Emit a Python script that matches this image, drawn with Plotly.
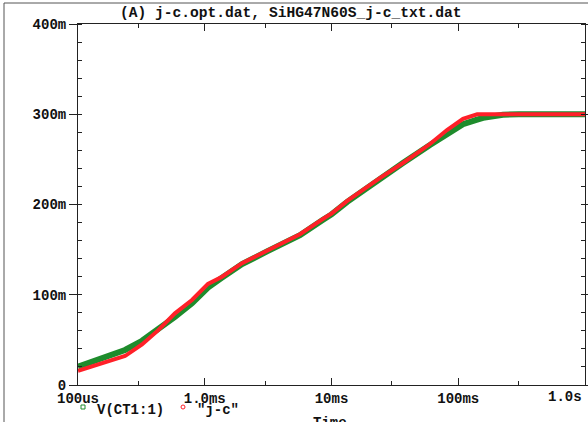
import plotly.graph_objects as go

# ---- data (time in s, value in V) ----
t_green = [1e-4, 1.72e-4, 2.35e-4, 3.2e-4, 4.28e-4, 5.82e-4, 7.93e-4, 1.06e-3, 1.37e-3,
           1.97e-3, 3.1e-3, 4.14e-3, 5.64e-3, 8.57e-3, 1.0e-2, 1.33e-2, 1.77e-2, 2.42e-2,
           3.66e-2, 5.98e-2, 8.15e-2, 0.109, 0.141, 0.157, 0.225, 0.3, 1.0]
v_green_m = [20.3, 32, 38.8, 49, 61, 75.5, 90.5, 108, 119,
             134, 148, 156, 166, 183, 189, 203, 215.5, 228.5,
             246, 266, 277, 289, 294, 296, 299.5, 300, 300]
t_red = [1e-4, 1.72e-4, 2.35e-4, 3.2e-4, 4.28e-4, 5.82e-4, 7.93e-4, 1.06e-3, 1.37e-3,
         1.97e-3, 3.1e-3, 4.14e-3, 5.64e-3, 8.57e-3, 1.0e-2, 1.33e-2, 1.77e-2, 2.42e-2,
         3.66e-2, 5.98e-2, 8.15e-2, 0.109, 0.141, 1.0]
v_red_m = [15.8, 25.8, 32.1, 45, 60.5, 79.4, 94.2, 112, 120,
           135, 148.5, 157, 167, 184, 190, 204, 216.5, 229.5,
           246, 267, 282.5, 295, 300, 300]

x_tickvals = [1e-4, 1e-3, 1e-2, 1e-1, 1.0]
x_ticktext = ["100us", "1.0ms", "10ms", "100ms", ""]
x_minor = [3e-4, 3e-3, 3e-2, 3e-1]
y_tickvals = [0, 0.1, 0.2, 0.3, 0.4]
y_ticktext = ["0", "100m", "200m", "300m", "400m"]

title_text = "(A) j-c.opt.dat, SiHG47N60S_j-c_txt.dat"
legend_names = ["V(CT1:1)", '"j-c"']

GREEN = "#1e8c2c"
RED = "#ff2028"
AX = "#222222"
FONT = dict(family="Liberation Mono, Courier New, monospace", size=14, color="#111111", weight="bold")
TFONT = dict(FONT, size=14.6)

W, H = 588, 422
L, R, T, B = 78, 3, 24, 37
PW, PH = W - L - R, H - T - B

def px(x):
    return (x - L) / PW

def py(y):
    return (H - B - y) / PH

fig = go.Figure()
fig.add_trace(go.Scatter(x=t_green, y=[v / 1000 for v in v_green_m], mode="lines",
                         line=dict(color=GREEN, width=6), name=legend_names[0]))
fig.add_trace(go.Scatter(x=t_red, y=[v / 1000 for v in v_red_m], mode="lines",
                         line=dict(color=RED, width=4), name=legend_names[1]))

fig.update_layout(
    width=W, height=H, margin=dict(l=L, r=R, t=T, b=B, autoexpand=False),
    paper_bgcolor="white", plot_bgcolor="white", showlegend=False,
    font=FONT,
    xaxis=dict(type="log", range=[-4, 0], tickvals=x_tickvals, ticktext=x_ticktext,
               ticks="inside", ticklen=7, tickwidth=1, tickcolor=AX, automargin=False,
               showline=True, linecolor=AX, linewidth=1, mirror="ticks",
               showgrid=False, zeroline=False, tickfont=FONT,
               minor=dict(tickvals=x_minor, ticks="inside", ticklen=4, tickcolor=AX, showgrid=False)),
    yaxis=dict(range=[0, 0.4], tickvals=y_tickvals, ticktext=y_ticktext,
               ticks="outside", ticklen=8, tickwidth=1, tickcolor=AX, automargin=False,
               showline=True, linecolor=AX, linewidth=1, mirror="ticks",
               showgrid=False, zeroline=False, tickfont=FONT,
               minor=dict(dtick=0.02, ticks="inside", ticklen=4, tickcolor=AX, showgrid=False)),
)

ann = [
    dict(text=title_text, x=px(291), y=py(13), xanchor="center", yanchor="middle", font=TFONT),
    dict(text="1.0s", x=px(584), y=py(397), xanchor="right", yanchor="middle", font=FONT),
    dict(text=legend_names[0], x=px(95), y=py(410), xanchor="left", yanchor="middle", font=FONT),
    dict(text=legend_names[1], x=px(195), y=py(410), xanchor="left", yanchor="middle", font=FONT),
    dict(text="Time", x=px(330), y=py(413), xanchor="center", yanchor="top", font=FONT),
]
for a in ann:
    fig.add_annotation(xref="paper", yref="paper", showarrow=False, **a)

# legend markers
fig.add_shape(type="rect", xref="paper", yref="paper", xsizemode="pixel", ysizemode="pixel",
              xanchor=px(83), yanchor=py(407), x0=-2, x1=2, y0=-2, y1=2,
              line=dict(color=GREEN, width=1), fillcolor="rgba(0,0,0,0)")
fig.add_shape(type="circle", xref="paper", yref="paper", xsizemode="pixel", ysizemode="pixel",
              xanchor=px(183), yanchor=py(407), x0=-2, x1=2, y0=-2, y1=2,
              line=dict(color=RED, width=1), fillcolor="rgba(0,0,0,0)")
# outer frame lines
fig.add_shape(type="line", xref="paper", yref="paper", x0=px(4), x1=px(590), y0=py(3), y1=py(3),
              line=dict(color="#555555", width=1))
fig.add_shape(type="line", xref="paper", yref="paper", x0=px(4), x1=px(4), y0=py(3), y1=py(425),
              line=dict(color="#555555", width=1))

fig.write_html("out.html", config={"displayModeBar": False},
               post_script="document.body.style.margin='0px';document.body.style.overflow='hidden';")
